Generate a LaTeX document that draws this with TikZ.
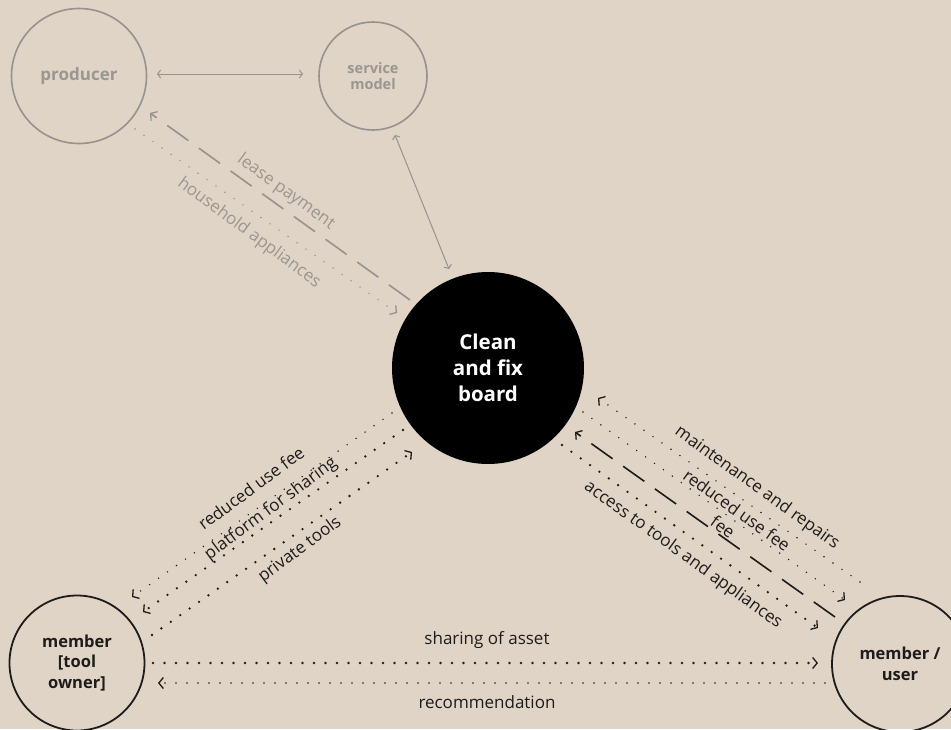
\documentclass[tikz,border=0pt]{standalone}
\usepackage{fontspec}
\setmainfont{Open Sans}
\usetikzlibrary{arrows.meta}
\definecolor{bg}{RGB}{224,212,198}
\definecolor{faded}{RGB}{150,146,142}
\definecolor{fadedtext}{RGB}{155,150,145}
\definecolor{ink}{RGB}{30,28,27}

\begin{document}
\begin{tikzpicture}[x=1pt,y=-1pt,
  actor/.style={circle, draw=ink, line width=1.8pt, inner sep=0pt, align=center,
    text=ink, font=\bfseries\fontsize{16.5}{20.5}\selectfont},
  ghost/.style={circle, draw=faded, line width=1.6pt, inner sep=0pt, align=center,
    text=fadedtext, font=\bfseries\fontsize{17}{17}\selectfont},
  hub/.style={circle, fill=black, inner sep=0pt, minimum size=192pt, align=center,
    text=white, font=\bfseries\fontsize{20.5}{26}\selectfont},
  tip/.style={-{Straight Barb[length=4.5pt,width=11pt,line width=1.3pt]}},
  smalltip/.style={{Straight Barb[length=3pt,width=8pt,line width=1pt]}-{Straight Barb[length=3pt,width=8pt,line width=1pt]}},
  bigdots/.style={draw=ink, line width=2.6pt, line cap=round, dash pattern=on 0pt off 11.5pt},
  smalldots/.style={line width=1.6pt, line cap=round, dash pattern=on 0pt off 11pt},
  longdash/.style={line width=1.6pt, dash pattern=on 26pt off 13pt},
  flowlabel/.style={font=\fontsize{17}{17}\selectfont, inner sep=0pt, text=ink},
  fadedlabel/.style={flowlabel, text=fadedtext}
]
\useasboundingbox (0,0) rectangle (951,729);
\fill[bg] (0,0) rectangle (951,729);

% actors
\node[ghost, minimum size=135pt] (producer) at (79,76) {producer};
\node[ghost, minimum size=108pt, font=\bfseries\fontsize{14.5}{16.5}\selectfont] (service) at (373,76) {service\\model};
\node[hub] (board) at (488,368) {Clean\\and fix\\board};
\node[actor, minimum size=135pt] (owner) at (77,663) {member\\{}[tool\\owner]};
\node[actor, minimum size=136pt] (user) at (900,664) {member /\\user};

% end points of the flows
\coordinate (pA) at (157,74);   \coordinate (sA) at (303,74);
\coordinate (sB) at (395,135);  \coordinate (bB) at (449,269);
\coordinate (bC) at (410,300);  \coordinate (pC) at (150,113);
\coordinate (pD) at (135,129);  \coordinate (bD) at (397,313);
\coordinate (bE) at (392,413);  \coordinate (oE) at (132,597);
\coordinate (bF) at (403,430);  \coordinate (oF) at (143,612);
\coordinate (oG) at (152,635);  \coordinate (bG) at (412,452);
\coordinate (uH) at (860,582);  \coordinate (bH) at (598,398);
\coordinate (bI) at (583,412);  \coordinate (uI) at (845,600);
\coordinate (uJ) at (835,617);  \coordinate (bJ) at (575,432);
\coordinate (bK) at (562,445);  \coordinate (uK) at (818,628);
\coordinate (oL) at (153,663);  \coordinate (uL) at (818,663);
\coordinate (uM) at (825,683);  \coordinate (oM) at (158,683);

% producer / service model / board
\draw[faded, line width=1pt, smalltip] (pA) -- (sA);
\draw[faded, line width=1pt, smalltip] (sB) -- (bB);
\draw[faded, longdash, tip] (bC) -- (pC);
\draw[faded, smalldots, tip] (pD) -- (bD);
\node[fadedlabel, rotate=-36] (lease) at (286,192) {lease payment};
\node[fadedlabel, rotate=-36.5] (household) at (249,233) {household appliances};

% tool owner / board
\draw[ink, smalldots, tip] (bE) -- (oE);
\draw[bigdots, tip] (bF) -- (oF);
\draw[bigdots, tip] (oG) -- (bG);
\node[flowlabel, rotate=36.5] (feeL) at (251,488) {reduced use fee};
\node[flowlabel, rotate=36.5] (platform) at (271,509) {platform for sharing};
\node[flowlabel, rotate=36.5] (private) at (300,550) {private tools};

% user / board
\draw[ink, smalldots, tip] (uH) -- (bH);
\draw[ink, smalldots, tip] (bI) -- (uI);
\draw[ink, longdash, tip] (uJ) -- (bJ);
\draw[bigdots, tip] (bK) -- (uK);
\node[flowlabel, rotate=-35.7] (maint) at (757,488) {maintenance and repairs};
\node[flowlabel, rotate=-35.7] (feeR) at (737,510) {reduced use fee};
\node[flowlabel, rotate=-35.7] (fee) at (723,527) {fee};
\node[flowlabel, rotate=-35.7] (access) at (683,555) {access to tools and appliances};

% owner / user
\draw[bigdots, tip] (oL) -- (uL);
\draw[ink, smalldots, tip] (uM) -- (oM);
\node[flowlabel] (sharing) at (487,640) {sharing of asset};
\node[flowlabel] (recommend) at (487,702) {recommendation};
\end{tikzpicture}
\end{document}
